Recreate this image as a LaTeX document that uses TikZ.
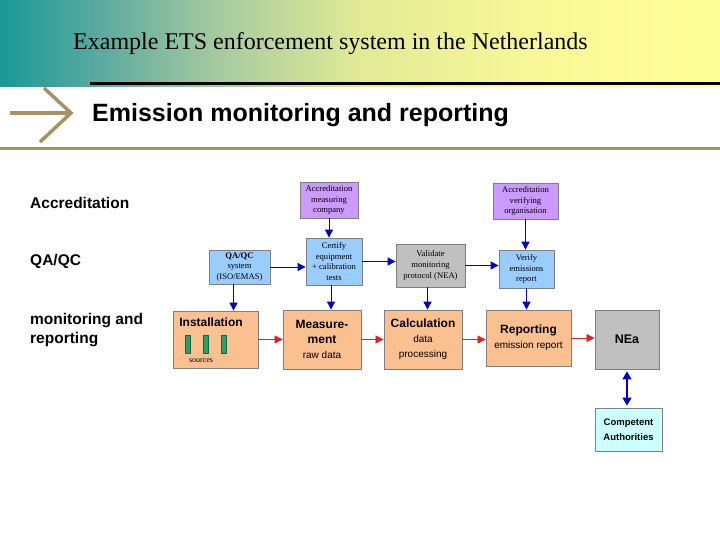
\documentclass[tikz,border=0pt]{standalone}
\usepackage{fontspec}
\setmainfont{Liberation Serif}
\setsansfont{Liberation Sans}
\usetikzlibrary{arrows.meta,positioning,calc}

\definecolor{hdteal}{RGB}{26,152,152}
\definecolor{hdsea}{RGB}{92,170,160}
\definecolor{hdsage}{RGB}{165,202,160}
\definecolor{hdlime}{RGB}{226,234,150}
\definecolor{hdcream}{RGB}{249,248,152}
\definecolor{hdyel}{RGB}{255,255,153}
\definecolor{rulebrown}{RGB}{168,146,100}
\definecolor{boxline}{RGB}{128,128,128}
\definecolor{accpurple}{RGB}{204,153,255}
\definecolor{qablue}{RGB}{153,204,255}
\definecolor{neagray}{RGB}{192,192,192}
\definecolor{stageorange}{RGB}{250,192,144}
\definecolor{caicyan}{RGB}{204,255,255}
\definecolor{flowblue}{RGB}{0,0,204}
\definecolor{chainred}{RGB}{230,30,30}
\definecolor{srcgreen}{RGB}{40,160,110}
\definecolor{srcedge}{RGB}{25,100,70}

\pgfdeclarehorizontalshading{headfade}{100bp}{color(0bp)=(hdteal); color(25bp)=(hdteal); color(32bp)=(hdsea); color(40bp)=(hdsage); color(50bp)=(hdlime); color(62bp)=(hdcream); color(75bp)=(hdyel); color(100bp)=(hdyel)}

\begin{document}
\begin{tikzpicture}[
    x=1pt, y=-1pt,
    cellbox/.style={draw=boxline, line width=0.8pt, inner sep=1pt, align=center, font=\fontsize{8.6}{10.6}\selectfont},
    accbox/.style={cellbox, fill=accpurple},
    qabox/.style={cellbox, fill=qablue},
    neabox/.style={cellbox, fill=neagray},
    stagebox/.style={draw=boxline, line width=0.8pt, fill=stageorange, inner sep=1pt, align=center, font=\sffamily\fontsize{10}{15}\selectfont},
    caibox/.style={draw=boxline, line width=0.8pt, fill=caicyan, inner sep=1pt, align=center, font=\sffamily\bfseries\fontsize{9.5}{14.5}\selectfont},
    rowlabel/.style={anchor=west, align=left, inner sep=0pt, font=\sffamily\bfseries\fontsize{15.5}{19}\selectfont},
    srcbar/.style={draw=srcedge, fill=srcgreen, line width=0.5pt, minimum width=5pt, minimum height=18pt, inner sep=0pt},
    flow/.style={-{Triangle[length=8pt,width=8pt]}, draw=flowblue, line width=0.9pt},
    chain/.style={-{Triangle[length=8pt,width=8pt]}, draw=chainred, line width=0.6pt},
]
\useasboundingbox (0,0) rectangle (720,540);

% Slide header
\shade[shading=headfade] (0,0) rectangle (720,87);
\draw[line width=3pt] (90,84) -- (720,84);
\node[anchor=west, inner sep=0pt, font=\fontsize{24}{26}\selectfont] (slidetitle) at (73,44) {Example ETS enforcement system in the Netherlands};

% Section banner
\draw[rulebrown, line width=3.5pt] (10,113) -- (70,113);
\draw[rulebrown, line width=3.5pt] (44,88) -- (71,113) -- (40,142);
\draw[rulebrown, line width=3pt] (0,149) -- (720,149);
\node[anchor=west, inner sep=0pt, font=\sffamily\bfseries\fontsize{25}{28}\selectfont] (banner) at (92,115) {Emission monitoring and reporting};

% Row labels
\node[rowlabel] (rowacc) at (30,203) {Accreditation};
\node[rowlabel] (rowqa) at (30,261) {QA/QC};
\node[rowlabel] (rowmr) at (30,330) {monitoring and\\reporting};

% Accreditation row
\node[accbox, minimum width=58pt, minimum height=36pt] (accm) at (329,200) {Accreditation\\measuring\\company};
\node[accbox, minimum width=65pt, minimum height=36pt] (accv) at (525.5,201) {Accreditation\\verifying\\organisation};

% QA/QC row
\node[qabox, minimum width=61pt, minimum height=34pt] (qaqc) at (239.5,267) {\textbf{QA/QC}\\system\\(ISO/EMAS)};
\node[qabox, minimum width=56pt, minimum height=47pt] (certify) at (334,261.5) {Certify\\equipment\\+ calibration\\tests};
\node[neabox, minimum width=69pt, minimum height=43pt] (validate) at (430.5,265.5) {Validate\\monitoring\\protocol (NEA)};
\node[qabox, minimum width=55pt, minimum height=38pt] (verify) at (526.5,269) {Verify\\emissions\\report};

% Monitoring and reporting row
\node[stagebox, minimum width=85pt, minimum height=57pt] (install) at (215.5,339.5) {};
\node[anchor=north, inner sep=0pt, font=\sffamily\bfseries\fontsize{12}{15}\selectfont] (installhead) at (211,318) {Installation};
\node[srcbar] (src1) at (187.5,344) {};
\node[srcbar] (src2) at (205.5,344) {};
\node[srcbar] (src3) at (223.5,344) {};
\node[inner sep=0pt, font=\fontsize{8}{9}\selectfont] (srclabel) at (201,361) {sources};
\node[stagebox, minimum width=78pt, minimum height=59pt] (measure) at (322,339.5) {\textbf{\fontsize{12}{16}\selectfont Measure-}\\\textbf{\fontsize{12}{16}\selectfont ment}\\raw data};
\node[stagebox, minimum width=78pt, minimum height=59pt] (calc) at (423,339.5) {\textbf{\fontsize{12}{15}\selectfont Calculation}\\data\\processing};
\node[stagebox, minimum width=85pt, minimum height=56pt] (report) at (528.5,338) {\textbf{\fontsize{12}{15}\selectfont Reporting}\\emission report};
\node[stagebox, fill=neagray, minimum width=64pt, minimum height=59pt, font=\sffamily\bfseries\fontsize{12.5}{15}\selectfont] (nea) at (627,339.5) {NEa};
\node[caibox, minimum width=67pt, minimum height=43pt] (cai) at (628.5,429.5) {Competent\\Authorities};

% Accreditation feeds
\draw[flow] (accm.south) -- (accm.south |- certify.north);
\draw[flow] (accv.south) -- (accv.south |- verify.north);

% QA/QC chain
\draw[flow] (qaqc.east) -- (qaqc.east -| certify.west);
\draw[flow] (certify.east) -- (certify.east -| validate.west);
\draw[flow] (validate.east) -- (validate.east -| verify.west);

% Down into the stages
\draw[flow] ([xshift=-6pt]qaqc.south) -- ([xshift=-6pt]qaqc.south |- install.north);
\draw[flow] ([xshift=-3pt]certify.south) -- ([xshift=-3pt]certify.south |- measure.north);
\draw[flow] ([xshift=-3pt]validate.south) -- ([xshift=-3pt]validate.south |- calc.north);
\draw[flow] (verify.south) -- (verify.south |- report.north);

% Stage chain
\draw[chain] (install.east) -- (measure.west);
\draw[chain] (measure.east) -- (calc.west);
\draw[chain] (calc.east) -- (calc.east -| report.west);
\draw[chain] (report.east) -- (report.east -| nea.west);

% NEa and the authorities
\draw[flow, {Triangle[length=8pt,width=9pt]}-{Triangle[length=8pt,width=9pt]}, line width=1.6pt, shorten <=2pt, shorten >=2pt] (nea.south) -- (nea.south |- cai.north);

\end{tikzpicture}
\end{document}
